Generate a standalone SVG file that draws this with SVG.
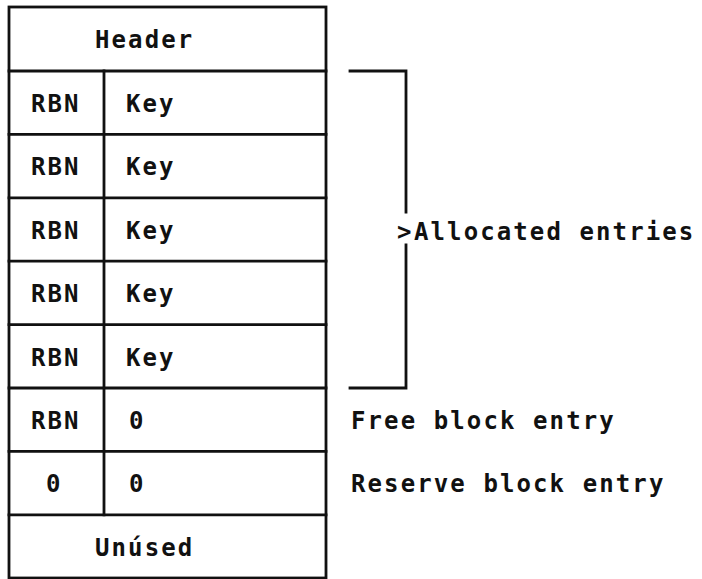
<svg xmlns="http://www.w3.org/2000/svg" width="702" height="579" viewBox="0 0 702 579">
  <style>
    .t { font-family: "DejaVu Sans Mono", "Liberation Mono", monospace; font-weight: bold; font-size: 24px; letter-spacing: 2.1px; fill: #111; }
    .ln { stroke: #111; stroke-width: 2.8; fill: none; stroke-linecap: square; }
  </style>
  <rect width="702" height="579" fill="#fff"/>

  <!-- block layout table -->
  <g id="table">
    <rect class="ln" x="9" y="7" width="317" height="571"/>
    <path class="ln" d="M9 71H326 M9 134.4H326 M9 197.8H326 M9 261.2H326 M9 324.6H326 M9 388H326 M9 451.4H326 M9 514.8H326"/>
    <path class="ln" d="M104 71V514.8"/>
  </g>

  <g id="header"><text class="t" x="95" y="48">Header</text></g>
  <g id="entry1"><text class="t" x="31" y="112">RBN</text><text class="t" x="126" y="112">Key</text></g>
  <g id="entry2"><text class="t" x="31" y="175.4">RBN</text><text class="t" x="126" y="175.4">Key</text></g>
  <g id="entry3"><text class="t" x="31" y="238.8">RBN</text><text class="t" x="126" y="238.8">Key</text></g>
  <g id="entry4"><text class="t" x="31" y="302.2">RBN</text><text class="t" x="126" y="302.2">Key</text></g>
  <g id="entry5"><text class="t" x="31" y="365.6">RBN</text><text class="t" x="126" y="365.6">Key</text></g>
  <g id="free-entry"><text class="t" x="31" y="429">RBN</text><text class="t" x="129" y="429">0</text></g>
  <g id="reserve-entry"><text class="t" x="46" y="492.4">0</text><text class="t" x="129" y="492.4">0</text></g>
  <g id="unused"><text class="t" x="95" y="556">Unúsed</text></g>

  <!-- bracket grouping the allocated entries -->
  <g id="connectors">
    <path class="ln" d="M350 71H406V212 M406 245V388H350"/>
  </g>

  <g id="labels">
    <text class="t" x="397" y="240">&gt;</text>
    <text class="t" x="414" y="240">Allocated entries</text>
    <text class="t" x="351" y="429">Free block entry</text>
    <text class="t" x="351" y="492.4">Reserve block entry</text>
  </g>
</svg>
